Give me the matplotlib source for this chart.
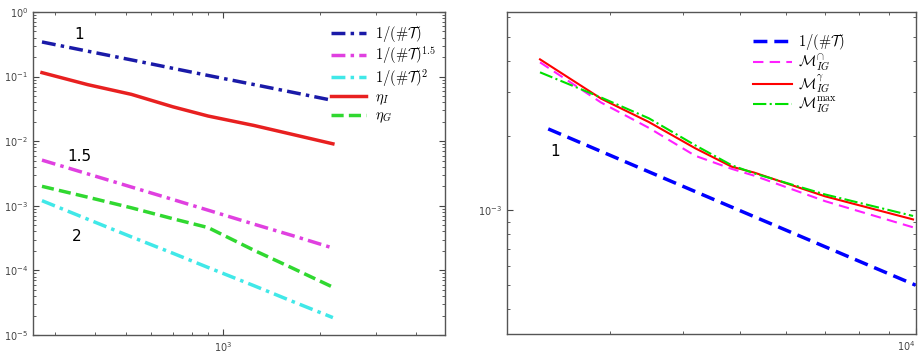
import matplotlib

matplotlib.use("Agg")
import matplotlib.pyplot as plt
from matplotlib.ticker import LogLocator, NullFormatter

plt.rcParams["mathtext.fontset"] = "cm"

# Left panel: estimators against number of elements
n_left = [274, 380, 520, 700, 900, 1250, 1650, 2200]
ref_1 = [0.343, 0.247, 0.181, 0.134, 0.104, 0.0752, 0.057, 0.0427]
ref_15 = [5.09e-3, 3.12e-3, 1.95e-3, 1.25e-3, 8.55e-4, 5.2e-4, 3.45e-4, 2.22e-4]
ref_2 = [1.2e-3, 6.2e-4, 3.3e-4, 1.84e-4, 1.11e-4, 5.8e-5, 3.3e-5, 1.86e-5]
eta_i = [0.115, 0.075, 0.053, 0.034, 0.0245, 0.0175, 0.0127, 0.0091]
eta_g = [2.0e-3, 1.36e-3, 9.3e-4, 6.3e-4, 4.6e-4, 2.05e-4, 1.08e-4, 5.5e-5]

# Right panel: marking strategies
n_right = [2280, 2900, 3500, 4200, 4850, 5300, 7000, 9900]
m_cap = [3.95e-3, 2.72e-3, 2.15e-3, 1.66e-3, 1.47e-3, 1.38e-3, 1.09e-3, 8.55e-4]
m_gamma = [4.06e-3, 2.82e-3, 2.27e-3, 1.78e-3, 1.50e-3, 1.42e-3, 1.14e-3, 9.2e-4]
m_max = [3.6e-3, 2.85e-3, 2.35e-3, 1.83e-3, 1.52e-3, 1.41e-3, 1.16e-3, 9.5e-4]
n_ref = [2355, 5000, 10000]
ref_right = [2.13e-3, 1.0e-3, 5.0e-4]

fig = plt.figure(figsize=(9.23, 3.63), dpi=100)
ax1 = fig.add_axes([0.0358, 0.0771, 0.446, 0.89])
ax2 = fig.add_axes([0.549, 0.080, 0.443, 0.887])


def style_axes(ax):
    ax.set_xscale("log")
    ax.set_yscale("log")
    ax.tick_params(which="both", direction="in", top=True, right=True,
                   labelsize=7, colors="#444444")
    ax.tick_params(which="major", length=4)
    ax.tick_params(which="minor", length=2)
    ax.xaxis.set_minor_locator(LogLocator(base=10, subs=range(2, 10)))
    ax.yaxis.set_minor_locator(LogLocator(base=10, subs=range(2, 10)))
    ax.xaxis.set_minor_formatter(NullFormatter())
    ax.yaxis.set_minor_formatter(NullFormatter())
    for s in ax.spines.values():
        s.set_color("#555555")
        s.set_linewidth(1.0)


style_axes(ax1)
ax1.plot(n_left, ref_1, color="#1a1aa8", ls=(0, (4, 1.5, 1, 1.5)), lw=2.5, label=r"$1/(\#\mathcal{T})$")
ax1.plot(n_left, ref_15, color="#e040e0", ls=(0, (4, 1.5, 1, 1.5)), lw=2.5, label=r"$1/(\#\mathcal{T})^{1.5}$")
ax1.plot(n_left, ref_2, color="#40e8e8", ls=(0, (4, 1.5, 1, 1.5)), lw=2.5, label=r"$1/(\#\mathcal{T})^{2}$")
ax1.plot(n_left, eta_i, color="#e82020", ls="-", lw=2.5, label=r"$\eta_I$")
ax1.plot(n_left, eta_g, color="#30d830", ls=(0, (3.5, 1.5)), lw=2.5, label=r"$\eta_G$")
ax1.set_xlim(257, 4900)
ax1.set_ylim(1e-5, 1e0)
ax1.text(357, 0.44, "1", fontsize=11, ha="center", va="center")
ax1.text(357, 5.7e-3, "1.5", fontsize=11, ha="center", va="center")
ax1.text(352, 3.3e-4, "2", fontsize=11, ha="center", va="center")
ax1.legend(loc="upper right", bbox_to_anchor=(1.0, 0.99), frameon=False,
           fontsize=10.5, handlelength=2.4, handletextpad=0.6, labelspacing=0.04,
           borderaxespad=0.2)

style_axes(ax2)
ax2.plot(n_ref, ref_right, color="#0000ff", ls=(0, (4, 2)), lw=2.5, label=r"$1/(\#\mathcal{T})$")
ax2.plot(n_right, m_cap, color="#ff20ff", ls=(0, (5, 3)), lw=1.5, label=r"$\mathcal{M}_{IG}^{\cap}$")
ax2.plot(n_right, m_gamma, color="#ff0000", ls="-", lw=1.5, label=r"$\mathcal{M}_{IG}^{\gamma}$")
ax2.plot(n_right, m_max, color="#00e000", ls="-.", lw=1.5, label=r"$\mathcal{M}_{IG}^{\max}$")
ax2.set_xlim(2000, 10000)
ax2.set_ylim(3.18e-4, 6.3e-3)
for lbl in ax2.get_xticklabels():
    lbl.set_horizontalalignment("right")
ax2.text(2420, 1.73e-3, "1", fontsize=11, ha="center", va="center")
ax2.legend(loc="upper left", bbox_to_anchor=(0.58, 0.965), frameon=False,
           fontsize=10.5, handlelength=2.7, handletextpad=0.4, labelspacing=0.0,
           borderaxespad=0.2)

fig.savefig("out.png", dpi=100)
